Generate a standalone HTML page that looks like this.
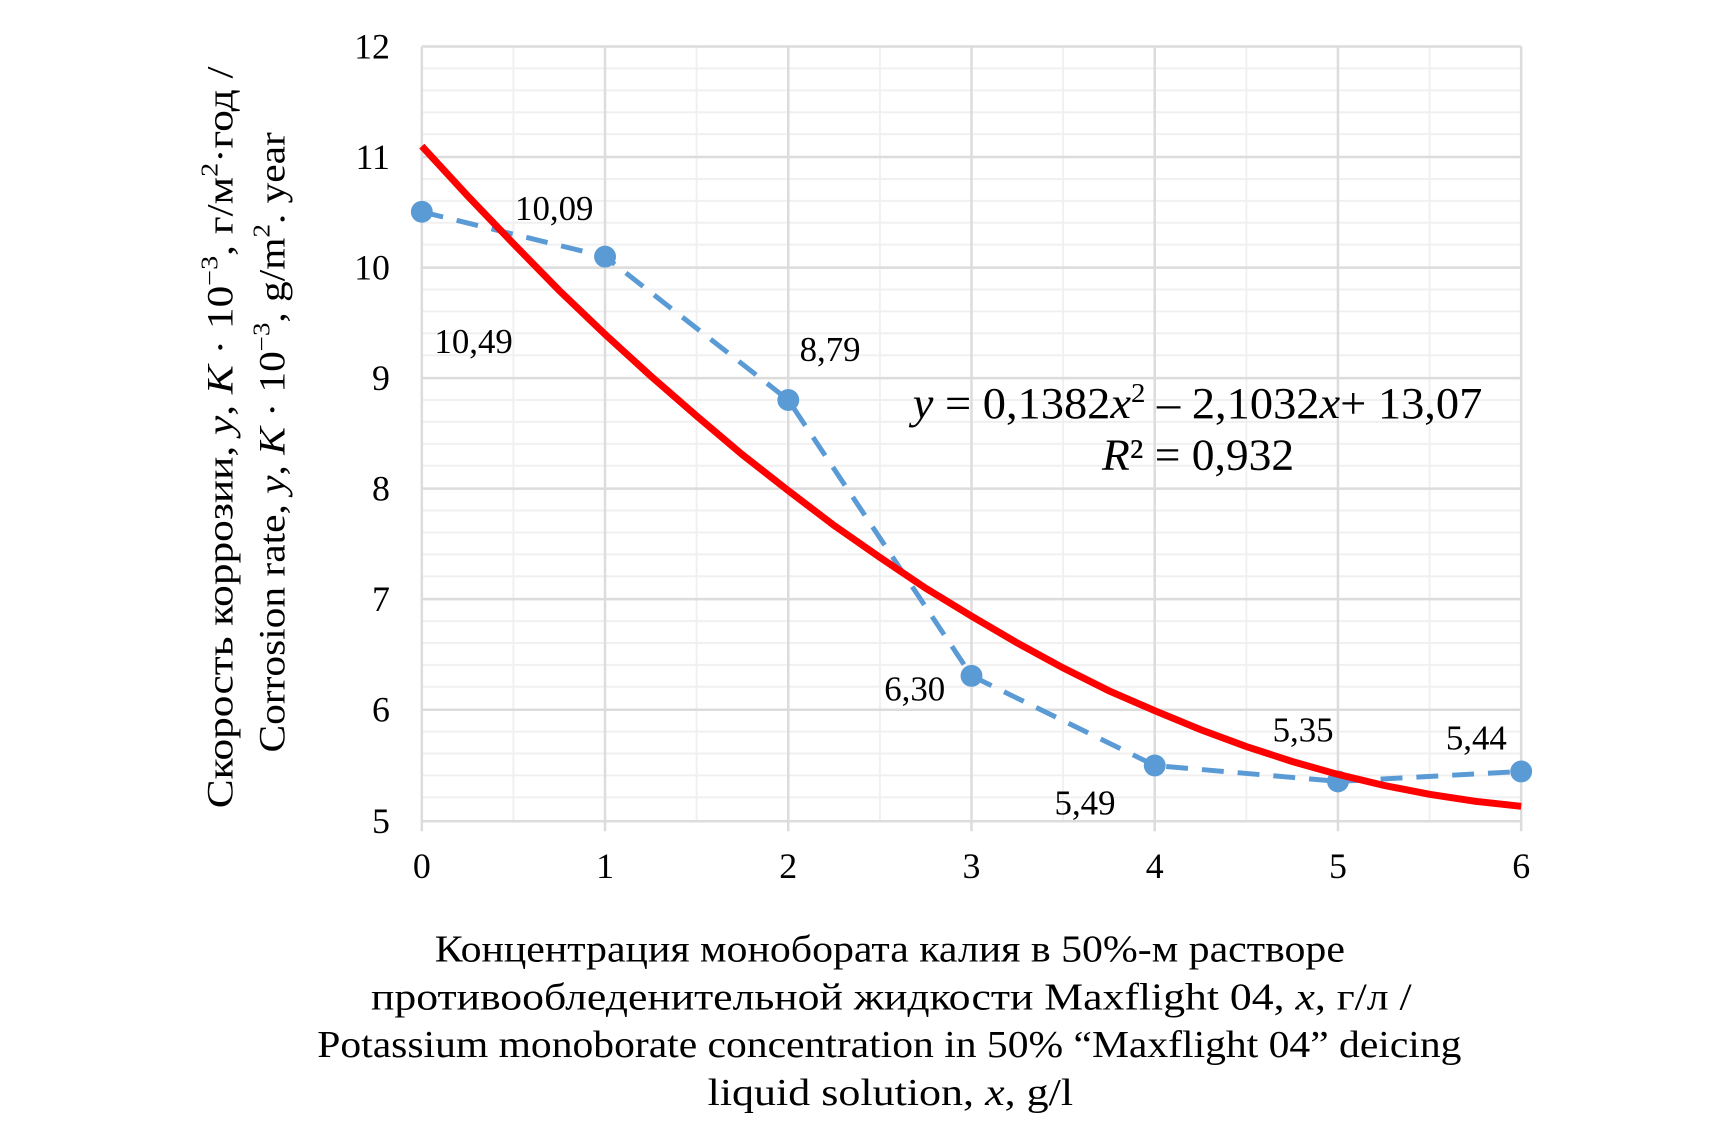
<!DOCTYPE html>
<html><head><meta charset="utf-8"><style>
html,body{margin:0;padding:0;background:#fff;}
svg{display:block;font-family:"Liberation Serif",serif;}
</style></head><body>
<svg width="1735" height="1137" viewBox="0 0 1735 1137" xmlns="http://www.w3.org/2000/svg">
<g transform="translate(-0.4,-0.3) scale(0.9958)">
<g stroke="#f0f0f0" stroke-width="2">
<line x1="424" x2="1528" y1="69" y2="69"/><line x1="424" x2="1528" y1="91" y2="91"/><line x1="424" x2="1528" y1="113" y2="113"/><line x1="424" x2="1528" y1="135" y2="135"/>
<line x1="424" x2="1528" y1="180" y2="180"/><line x1="424" x2="1528" y1="202" y2="202"/><line x1="424" x2="1528" y1="224" y2="224"/><line x1="424" x2="1528" y1="246" y2="246"/>
<line x1="424" x2="1528" y1="291" y2="291"/><line x1="424" x2="1528" y1="313" y2="313"/><line x1="424" x2="1528" y1="335" y2="335"/><line x1="424" x2="1528" y1="357" y2="357"/>
<line x1="424" x2="1528" y1="402" y2="402"/><line x1="424" x2="1528" y1="424" y2="424"/><line x1="424" x2="1528" y1="446" y2="446"/><line x1="424" x2="1528" y1="468" y2="468"/>
<line x1="424" x2="1528" y1="513" y2="513"/><line x1="424" x2="1528" y1="535" y2="535"/><line x1="424" x2="1528" y1="557" y2="557"/><line x1="424" x2="1528" y1="579" y2="579"/>
<line x1="424" x2="1528" y1="624" y2="624"/><line x1="424" x2="1528" y1="646" y2="646"/><line x1="424" x2="1528" y1="668" y2="668"/><line x1="424" x2="1528" y1="690" y2="690"/>
<line x1="424" x2="1528" y1="735" y2="735"/><line x1="424" x2="1528" y1="757" y2="757"/><line x1="424" x2="1528" y1="779" y2="779"/><line x1="424" x2="1528" y1="801" y2="801"/>
<line x1="516" x2="516" y1="47" y2="825"/><line x1="700" x2="700" y1="47" y2="825"/><line x1="884" x2="884" y1="47" y2="825"/><line x1="1068" x2="1068" y1="47" y2="825"/><line x1="1252" x2="1252" y1="47" y2="825"/><line x1="1436" x2="1436" y1="47" y2="825"/>
</g>
<g stroke="#dcdcdc" stroke-width="2.5">
<line x1="424" x2="1528" y1="47" y2="47"/><line x1="424" x2="1528" y1="158" y2="158"/><line x1="424" x2="1528" y1="269" y2="269"/><line x1="424" x2="1528" y1="380" y2="380"/><line x1="424" x2="1528" y1="491" y2="491"/><line x1="424" x2="1528" y1="602" y2="602"/><line x1="424" x2="1528" y1="713" y2="713"/><line x1="424" x2="1528" y1="825" y2="825"/>
<line x1="424" x2="424" y1="47" y2="835"/><line x1="608" x2="608" y1="47" y2="835"/><line x1="792" x2="792" y1="47" y2="835"/><line x1="976" x2="976" y1="47" y2="835"/><line x1="1160" x2="1160" y1="47" y2="835"/><line x1="1344" x2="1344" y1="47" y2="835"/><line x1="1528" x2="1528" y1="47" y2="835"/>
</g>
<g font-size="36" text-anchor="end" fill="#000">
<text x="392" y="59">12</text><text x="392" y="170">11</text><text x="392" y="281">10</text><text x="392" y="392">9</text><text x="392" y="503">8</text><text x="392" y="614">7</text><text x="392" y="725">6</text><text x="392" y="837">5</text>
</g>
<g font-size="36" text-anchor="middle" fill="#000">
<text x="424" y="882">0</text><text x="608" y="882">1</text><text x="792" y="882">2</text><text x="976" y="882">3</text><text x="1160" y="882">4</text><text x="1344" y="882">5</text><text x="1528" y="882">6</text>
</g>
<polyline fill="none" stroke="#5b9bd5" stroke-width="5" stroke-dasharray="22,14" points="424,213 608,258 792,402 976,679 1160,769 1344,785 1528,775"/>
<g fill="#5b9bd5">
<circle cx="424" cy="213" r="11"/><circle cx="608" cy="258" r="11"/><circle cx="792" cy="402" r="11"/><circle cx="976" cy="679" r="11"/><circle cx="1160" cy="769" r="11"/><circle cx="1344" cy="785" r="11"/><circle cx="1528" cy="775" r="11"/>
</g>
<polyline fill="none" stroke="#ff0000" stroke-width="7" points="424,147 470,197 516,245 562,292 608,336 654,378 700,418 746,457 792,493 838,528 884,560 930,591 976,619 1022,646 1068,671 1114,694 1160,714 1206,733 1252,750 1298,765 1344,778 1390,789 1436,798 1482,805 1528,810"/>
<g font-size="35" text-anchor="middle" fill="#000">
<text x="476" y="355">10,49</text><text x="557" y="221">10,09</text><text x="834" y="363">8,79</text><text x="919" y="704">6,30</text><text x="1090" y="818">5,49</text><text x="1309" y="745">5,35</text><text x="1483" y="753">5,44</text>
</g>
<g font-size="45" fill="#000">
<text x="917" y="420" textLength="572" lengthAdjust="spacingAndGlyphs"><tspan font-style="italic">y</tspan> = 0,1382<tspan font-style="italic">x</tspan><tspan font-size="28" dy="-16">2</tspan><tspan dy="16"> – 2,1032</tspan><tspan font-style="italic">x</tspan>+ 13,07</text>
<text x="1107" y="472" textLength="193" lengthAdjust="spacingAndGlyphs"><tspan font-style="italic">R</tspan>² = 0,932</text>
</g>
<g font-size="38" fill="#000">
<text x="437" y="966" textLength="914" lengthAdjust="spacingAndGlyphs">Концентрация монобората калия в 50%-м растворе</text>
<text x="373" y="1014" textLength="1045" lengthAdjust="spacingAndGlyphs">противообледенительной жидкости  Maxflight 04,  <tspan font-style="italic">x</tspan>,  г/л  /</text>
<text x="319" y="1062" textLength="1149" lengthAdjust="spacingAndGlyphs">Potassium monoborate concentration in 50% “Maxflight 04” deicing</text>
<text x="711" y="1110" textLength="367" lengthAdjust="spacingAndGlyphs">liquid solution,  <tspan font-style="italic">x</tspan>,  g/l</text>
</g>
<g font-size="37" fill="#000">
<text transform="translate(234,812) rotate(-90)" textLength="745" lengthAdjust="spacingAndGlyphs">Скорость коррозии, <tspan font-style="italic">y</tspan>, <tspan font-style="italic">K</tspan> · 10<tspan font-size="24" dy="-15">−3</tspan><tspan dy="15">,  г/м</tspan><tspan font-size="24" dy="-15">2</tspan><tspan dy="15">·год  /</tspan></text>
<text transform="translate(286,756) rotate(-90)" textLength="623" lengthAdjust="spacingAndGlyphs">Corrosion rate, <tspan font-style="italic">y</tspan>, <tspan font-style="italic">K</tspan> · 10<tspan font-size="24" dy="-15">−3</tspan><tspan dy="15">, g/m</tspan><tspan font-size="24" dy="-15">2</tspan><tspan dy="15">. year</tspan></text>
</g>
</g>
</svg>
</body></html>
